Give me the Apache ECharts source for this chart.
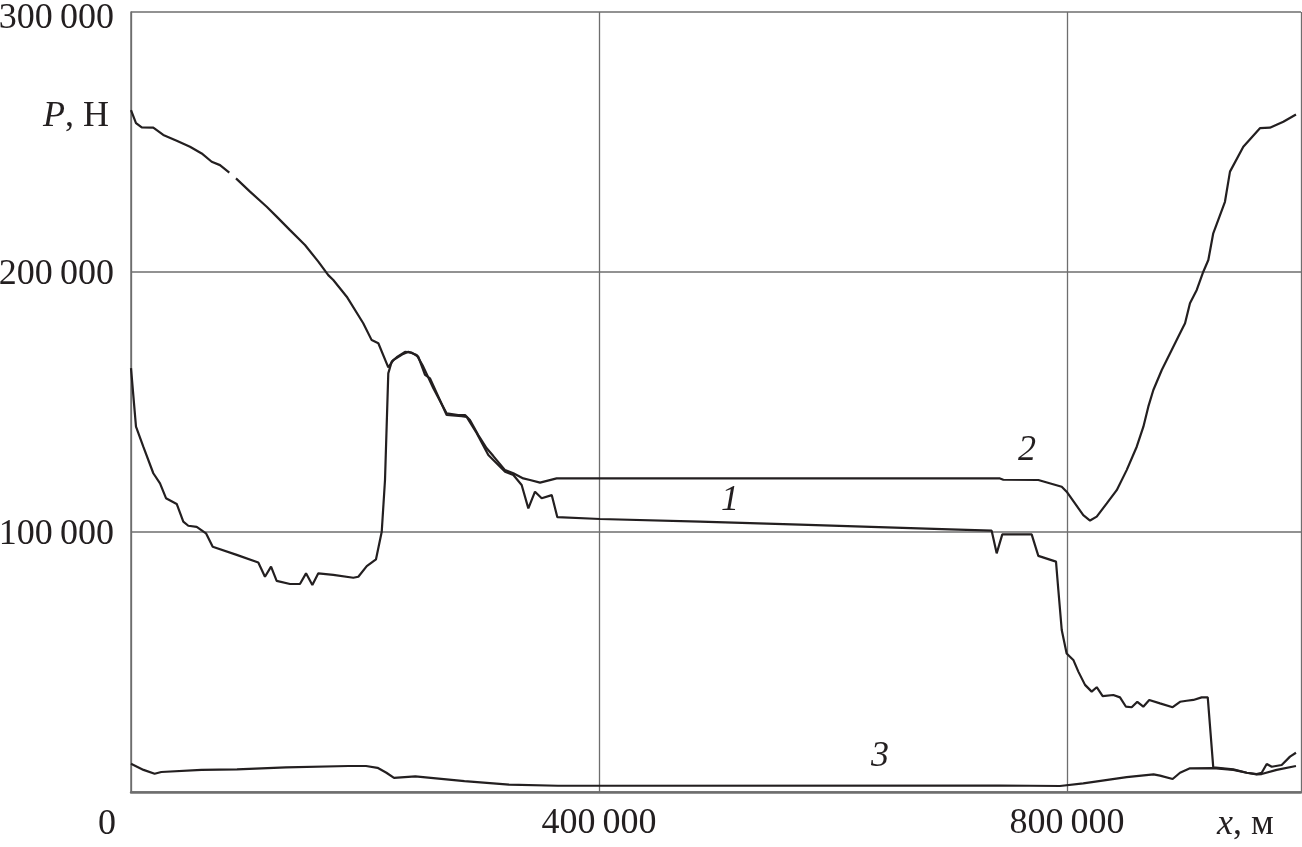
<!DOCTYPE html>
<html>
<head>
<meta charset="utf-8">
<script src="https://cdn.jsdelivr.net/npm/echarts@6/dist/echarts.min.js"></script>
<style>
html,body{margin:0;padding:0;background:#fff;}
#chart{width:1302px;height:847px;}
</style>
</head>
<body>
<div id="chart"></div>
<script>
// Curve 1: [x (m), P (N)]
const curve1 = [
  [0,163000],[4270,140500],[10510,132800],[19060,122600],[24790,118700],[29910,113000],
  [39060,110800],[44700,104000],[48970,102400],[56150,102000],[64100,99500],[69830,94300],
  [90340,91200],[108800,88300],[114500,82800],[119700,86700],[124500,81200],[135900,80000],
  [144400,80000],[149600,84100],[155000,79600],[160100,84100],[172900,83500],[190000,82400],
  [194300,82800],[201500,86900],[209400,89500],[214300,100100],[217100,120000],[219900,161000],
  [222800,165500],[227100,167200],[234200,169300],[239900,169000],[245600,167400],[251300,160400],
  [255600,159100],[269800,145000],[282600,144600],[286900,144300],[295500,138000],[305400,129600],
  [319700,123200],[326800,121900],[333900,118100],[339600,109100],[345300,115500],[351000,113000],
  [359600,114200],[364400,105700],[400900,105000],[486400,104000],[571800,102800],[700000,101000],
  [735600,100500],[739900,91800],[744700,99100],[769800,99100],[775500,90800],[790600,88600],
  [792600,77700],[795500,62300],[799700,53300],[805400,50800],[809700,46300],[815400,41200],
  [821100,38600],[825400,40300],[830500,36900],[839600,37300],[845300,36400],[850400,32800],
  [855300,32600],[860100,34700],[865200,32800],[870300,35400],[879500,34100],[890300,32600],
  [896600,34700],[902300,35100],[908000,35400],[915100,36400],[920300,36400],[925000,9500],
  [942100,8700],[953600,7400],[962100,6900],[966400,7400],[970700,10800],[975000,9700],
  [983500,10400],[990600,13600],[995700,15100]
];
// Curve 2 (null = break in the line)
const curve2 = [
  [0,262300],[4270,257300],[9150,255600],[19060,255500],[27600,252700],[39060,250500],
  [50430,248200],[60430,245600],[68970,242400],[76070,241100],[84020,238200],[86900,null],
  [89740,236000],[101700,230900],[116000,225100],[124500,221300],[135900,216100],[148700,210400],
  [160100,204000],[168600,198800],[172900,196900],[184400,190500],[198500,180300],[205700,173800],
  [211400,172600],[219900,163300],[224200,166100],[232700,168500],[237000,169300],[244200,168100],
  [249800,163600],[258400,155300],[269800,145600],[279700,145000],[285500,145000],[289700,143100],
  [296800,137300],[304000,132200],[309700,129200],[319700,123800],[326800,122600],[335300,120600],
  [341000,120000],[349600,119000],[363800,120600],[418000,120600],[742700,120600],[745600,120100],
  [775500,120000],[795500,117400],[799700,115500],[813900,106500],[819700,104400],[825400,105900],
  [834000,111000],[842500,116100],[851000,123800],[859600,132800],[865300,140500],[869500,148200],
  [873800,154600],[881000,162300],[889500,170000],[896600,176400],[900900,180300],[905100,188000],
  [910900,193100],[916500,200100],[920800,204600],[925000,214900],[935000,227000],[939300,238600],
  [950700,248200],[964900,255300],[973400,255500],[984900,257800],[995700,260600]
];
// Curve 3
const curve3 = [
  [0,10900],[10700,8500],[20200,7000],[25900,7700],[60200,8500],[90600,8700],[132500,9500],
  [185900,10000],[200900,10000],[210700,9300],[218300,7400],[224800,5400],[243000,6000],
  [285000,4200],[323100,2800],[365000,2400],[400000,2400],[742700,2500],[794000,2300],
  [813900,3300],[851000,5700],[874000,6800],[879500,6300],[890300,5000],[896600,7400],
  [905100,9100],[925000,9200],[942100,8500],[953600,7400],[962100,6800],[966400,6900],
  [979200,8500],[995700,10000]
];
const xTicks = [0, 400000, 800000];
const yTicks = [0, 100000, 200000, 300000];
const curveLabels = ['1', '2', '3'];

const FONT = "'Liberation Serif','Times New Roman',serif";
const INK = '#231f20';
const GRID = '#6e6e6e';
const fmt = v => String(v).replace(/\B(?=(\d{3})+(?!\d))/g, '\u2009');
const yMax = yTicks[yTicks.length - 1];

const chart = echarts.init(document.getElementById('chart'));

function lineSeries(data) {
  return {
    type: 'line', data: data, showSymbol: false, connectNulls: false,
    lineStyle: { color: INK, width: 2.2 }, itemStyle: { color: INK },
    silent: true, animation: false
  };
}

const option = {
  animation: false,
  backgroundColor: '#fff',
  grid: { left: 131, top: 12, right: 1, bottom: 55, containLabel: false, outerBoundsMode: 'none' },
  xAxis: {
    type: 'value', min: xTicks[0], max: 1000000, interval: xTicks[1] - xTicks[0],
    axisLine: { show: true, lineStyle: { color: GRID, width: 2.5 } },
    axisTick: { show: false },
    splitLine: { show: true, lineStyle: { color: GRID, width: 1.3 } },
    axisLabel: {
      show: true, showMinLabel: false, showMaxLabel: false, margin: 14,
      fontFamily: FONT, fontSize: 36, color: INK, formatter: fmt
    }
  },
  yAxis: {
    type: 'value', min: yTicks[0], max: yMax, interval: yTicks[1] - yTicks[0],
    axisLine: { show: true, lineStyle: { color: GRID, width: 1.5 } },
    axisTick: { show: false },
    splitLine: { show: true, lineStyle: { color: GRID, width: 1.5 } },
    axisLabel: {
      show: true, showMinLabel: false, margin: 17,
      fontFamily: FONT, fontSize: 36, color: INK,
      formatter: v => (v === yMax ? '{t|' : '{n|') + fmt(v) + '}',
      rich: {
        t: { fontFamily: FONT, fontSize: 36, color: INK, padding: [14, 0, 0, 0] },
        n: { fontFamily: FONT, fontSize: 36, color: INK, padding: [6, 0, 0, 0] }
      }
    }
  },
  series: [lineSeries(curve1), lineSeries(curve2), lineSeries(curve3)],
  graphic: [
    { type: 'text', left: 43, top: 99, silent: true,
      style: { text: '{i|P}, Н', fontFamily: FONT, fontSize: 36, fill: INK,
        rich: { i: { fontStyle: 'italic', fontFamily: FONT, fontSize: 36, fill: INK } } } },
    { type: 'text', left: 98, top: 807, silent: true,
      style: { text: fmt(xTicks[0]), fontFamily: FONT, fontSize: 36, fill: INK } },
    { type: 'text', left: 1217, top: 807, silent: true,
      style: { text: '{i|x}, м', fontFamily: FONT, fontSize: 36, fill: INK,
        rich: { i: { fontStyle: 'italic', fontFamily: FONT, fontSize: 36, fill: INK } } } },
    { type: 'text', left: 721, top: 483, silent: true,
      style: { text: curveLabels[0], fontFamily: FONT, fontSize: 36, fontStyle: 'italic', fill: INK } },
    { type: 'text', left: 1018, top: 433, silent: true,
      style: { text: curveLabels[1], fontFamily: FONT, fontSize: 36, fontStyle: 'italic', fill: INK } },
    { type: 'text', left: 871, top: 739, silent: true,
      style: { text: curveLabels[2], fontFamily: FONT, fontSize: 36, fontStyle: 'italic', fill: INK } }
  ]
};
chart.setOption(option);
</script>
</body>
</html>
